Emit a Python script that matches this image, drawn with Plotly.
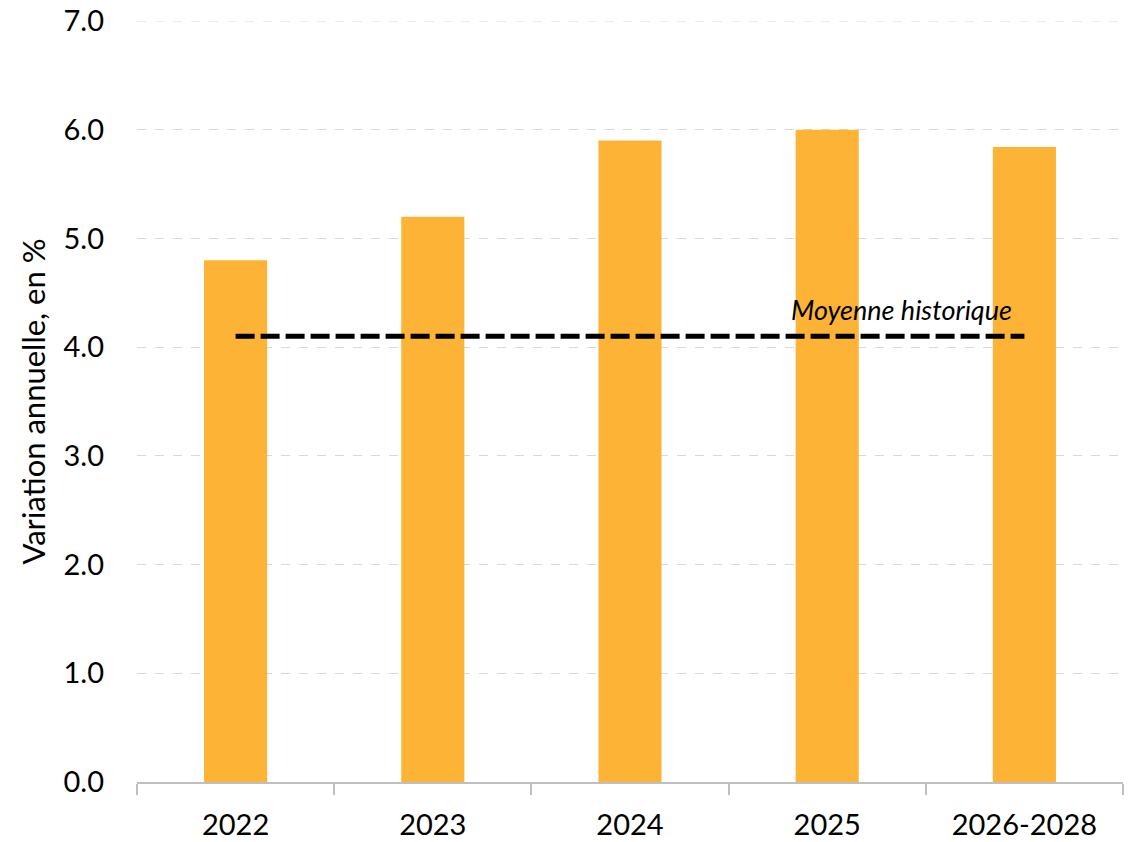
import plotly.graph_objects as go

categories = ["2022", "2023", "2024", "2025", "2026-2028"]
values = [4.8, 5.2, 5.9, 6.0, 5.84]
historical_avg = 4.1
avg_label = "Moyenne historique"
y_title = "Variation annuelle, en %"
y_ticks = [0, 1, 2, 3, 4, 5, 6, 7]

FONT = "Lato, Open Sans, sans-serif"

fig = go.Figure()
fig.add_trace(go.Bar(
    x=categories, y=values,
    marker=dict(color="#FDB335", line=dict(width=0)),
    width=0.32, showlegend=False,
))
fig.add_trace(go.Scatter(
    x=categories, y=[historical_avg] * len(categories),
    mode="lines",
    line=dict(color="black", width=5, dash="19px,6px"),
    showlegend=False,
))
fig.add_annotation(
    x=4, y=historical_avg, xref="x", yref="y",
    text="<i>" + avg_label + "</i>",
    showarrow=False, xanchor="right", yanchor="bottom",
    xshift=-10, yshift=8,
    font=dict(family=FONT, size=27, color="black"),
)
# top gridline (hidden by plotly at the range edge)
fig.add_shape(
    type="line", xref="paper", yref="y", x0=0, x1=1,
    y0=y_ticks[-1], y1=y_ticks[-1],
    line=dict(color="#D9D9D9", width=1, dash="dash"), layer="below",
)
fig.update_layout(
    width=1134, height=842,
    margin=dict(l=137, r=11, t=21, b=60, autoexpand=False),
    plot_bgcolor="white", paper_bgcolor="white",
    font=dict(family=FONT, size=29, color="black"),
)
fig.update_xaxes(
    type="category", automargin=False,
    showline=True, linecolor="#BFBFBF", linewidth=1.5,
    ticks="outside", tickson="boundaries", ticklen=11, tickcolor="#BFBFBF", tickwidth=1.5,
    tickfont=dict(size=29), showgrid=False,
    ticklabelstandoff=16,
)
fig.update_yaxes(
    range=[0, 7], tickvals=y_ticks, ticktext=[f"{v:.1f}" for v in y_ticks],
    automargin=False,
    showgrid=True, gridcolor="#D9D9D9", griddash="dash", gridwidth=1,
    zeroline=False, showline=False, ticks="",
    tickfont=dict(size=29),
    ticklabelstandoff=32,
    title=dict(text=y_title, font=dict(size=31), standoff=8),
)
fig.write_html("out.html")
